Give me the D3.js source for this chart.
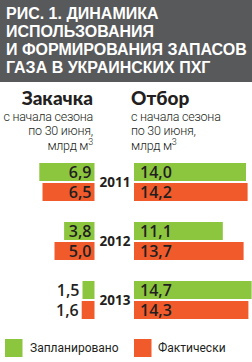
<!DOCTYPE html>
<html><head><meta charset="utf-8">
<script src="https://cdn.jsdelivr.net/npm/d3@7"></script>
<style>
html,body{margin:0;padding:0;background:#fff;}
svg{display:block;}
</style></head>
<body>
<script>
const titleLines = ["РИС. 1. ДИНАМИКА", "ИСПОЛЬЗОВАНИЯ", "И ФОРМИРОВАНИЯ ЗАПАСОВ", "ГАЗА В УКРАИНСКИХ ПХГ"];
const years = ["2011", "2012", "2013"];
const series = ["Запланировано", "Фактически"];
const injectionPlan = [6.9, 3.8, 1.5];
const injectionFact = [6.5, 5.0, 1.6];
const withdrawalPlan = [14.0, 11.1, 14.7];
const withdrawalFact = [14.2, 13.7, 14.3];
const leftHeader = "Закачка";
const rightHeader = "Отбор";
const subLines = ["с начала сезона", "по 30 июня,", "млрд м"];

const W = 252, H = 362;
const colors = {"Запланировано": "#8cc63f", "Фактически": "#f15a2b"};
const fmt = v => d3.format(".1f")(v).replace(".", ",");

const svg = d3.select("body").append("svg").attr("width", W).attr("height", H);

// header
svg.append("rect").attr("x", 0).attr("y", 0).attr("width", W).attr("height", 82).attr("fill", "#58595b");
svg.append("g").selectAll("text").data(titleLines).join("text")
  .attr("x", 6).attr("y", (d, i) => 19 + i * 18)
  .attr("fill", "#fff").attr("font-family", "Liberation Sans, Arial, sans-serif")
  .attr("font-weight", "bold").attr("font-size", 16)
  .text(d => d);

// column headers
const leftEdge = 94.5, rightEdge = 134;
function headerBlock(x, anchor, title) {
  svg.append("text").attr("x", x).attr("y", 105).attr("text-anchor", anchor)
    .attr("font-family", "Lato, sans-serif").attr("font-weight", 900).attr("font-size", 19)
    .attr("fill", "#231f20").text(title);
  subLines.forEach((s, i) => {
    const t = svg.append("text").attr("x", x).attr("y", 120.5 + i * 14.7).attr("text-anchor", anchor)
      .attr("font-family", "Roboto, sans-serif").attr("font-weight", 300).attr("font-size", 12.5)
      .attr("letter-spacing", -0.25)
      .attr("fill", "#231f20").text(s);
    if (i === 2) t.append("tspan").attr("dy", -5).attr("font-size", 9).text("3");
  });
}
headerBlock(93, "end", leftHeader);
headerBlock(131, "start", rightHeader);

// scales
const x = d3.scaleLinear().domain([0, 15]).range([0, 120]);
const y = d3.scaleBand().domain(years).range([163, 319]).paddingInner(21 / 59).paddingOuter(0);
const ys = d3.scaleBand().domain(series).range([0, y.bandwidth()]).paddingInner(0.1);

const rows = years.map((yr, i) => ({
  year: yr,
  left: [{s: series[0], v: injectionPlan[i]}, {s: series[1], v: injectionFact[i]}],
  right: [{s: series[0], v: withdrawalPlan[i]}, {s: series[1], v: withdrawalFact[i]}]
}));

const g = svg.append("g").selectAll("g").data(rows).join("g")
  .attr("transform", d => `translate(0,${y(d.year)})`);

g.append("text").attr("x", 115).attr("y", y.bandwidth() / 2 + 5).attr("text-anchor", "middle")
  .attr("font-family", "Open Sans, sans-serif").attr("font-weight", "bold").attr("font-size", 13.5)
  .attr("fill", "#231f20").text(d => d.year);

const valueFont = g => g.attr("font-family", "Open Sans, sans-serif").attr("font-weight", 600)
  .attr("font-size", 16).attr("fill", "#231f20");

// left bars
const lb = g.selectAll("g.l").data(d => d.left).join("g").attr("class", "l");
lb.append("rect").attr("x", d => leftEdge - x(d.v)).attr("y", d => ys(d.s))
  .attr("width", d => x(d.v)).attr("height", ys.bandwidth()).attr("fill", d => colors[d.s]);
lb.append("text").call(valueFont)
  .attr("x", d => x(d.v) > 30 ? leftEdge - 3 : leftEdge - x(d.v) - 3)
  .attr("y", d => ys(d.s) + ys.bandwidth() / 2 + 6).attr("text-anchor", "end")
  .text(d => fmt(d.v));

// right bars
const rb = g.selectAll("g.r").data(d => d.right).join("g").attr("class", "r");
rb.append("rect").attr("x", rightEdge).attr("y", d => ys(d.s))
  .attr("width", d => x(d.v)).attr("height", ys.bandwidth()).attr("fill", d => colors[d.s]);
rb.append("text").call(valueFont)
  .attr("x", rightEdge + 6).attr("y", d => ys(d.s) + ys.bandwidth() / 2 + 6)
  .text(d => fmt(d.v));

// legend
const lg = svg.append("g").selectAll("g").data(series).join("g")
  .attr("transform", (d, i) => `translate(${i === 0 ? 5 : 134},339)`);
lg.append("rect").attr("width", 17.5).attr("height", 18).attr("fill", d => colors[d]);
lg.append("text").attr("x", d => d === series[0] ? 25 : 24).attr("y", 13)
  .attr("font-family", "Roboto, sans-serif").attr("font-weight", 400).attr("font-size", 12)
  .attr("fill", "#231f20").text(d => d);
</script>
</body></html>
